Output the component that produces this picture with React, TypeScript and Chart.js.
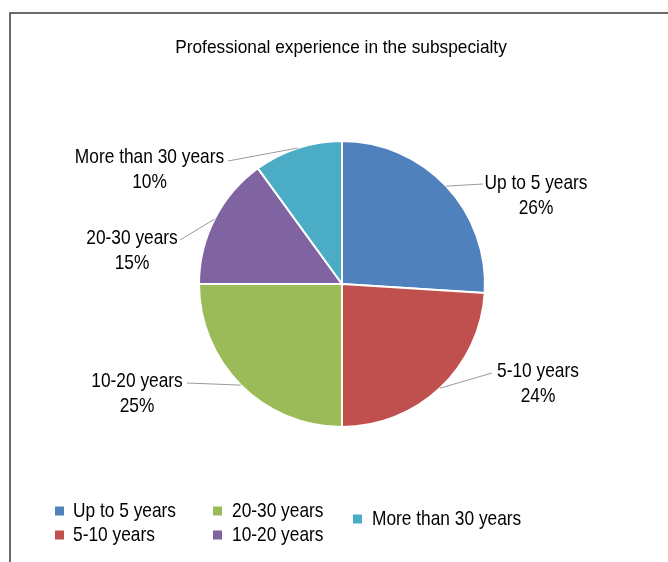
import React, { useEffect, useRef } from "react";
import { Chart, registerables } from "chart.js";

Chart.register(...registerables);

const chartTitle = "Professional experience in the subspecialty";
const categories = ["Up to 5 years", "5-10 years", "10-20 years", "20-30 years", "More than 30 years"];
const values = [26, 24, 25, 15, 10];
const colors = ["#4F81BD", "#C0504D", "#9BBB59", "#8064A2", "#4BACC6"];
// legend texts exactly as printed in the original figure (column-major order)
const legendLabels = ["Up to 5 years", "5-10 years", "20-30 years", "10-20 years", "More than 30 years"];

// layout (positions only)
const labelLayout = [
  { ex: 483, ey: 184, tx: 536, ty: 188.5 },
  { ex: 492, ey: 373, tx: 538, ty: 377 },
  { ex: 187, ey: 383, tx: 137, ty: 387 },
  { ex: 180, ey: 240, tx: 132, ty: 243.5 },
  { ex: 228, ey: 161, tx: 149.5, ty: 162.5 },
];
const legendLayout = [
  { sx: 55, sy: 511, tx: 73, ty: 517 },
  { sx: 55, sy: 535, tx: 73, ty: 541 },
  { sx: 213, sy: 511, tx: 232, ty: 517 },
  { sx: 213, sy: 535, tx: 232, ty: 541 },
  { sx: 353, sy: 519, tx: 372, ty: 525 },
];

const FONT = '"Liberation Sans", Arial, sans-serif';

function drawText(ctx: CanvasRenderingContext2D, text: string, x: number, y: number, size: number, sx: number, align: CanvasTextAlign) {
  ctx.save();
  ctx.translate(x, y);
  ctx.scale(sx, 1);
  ctx.font = `${size}px ${FONT}`;
  ctx.fillStyle = "#000";
  ctx.textAlign = align;
  ctx.textBaseline = "alphabetic";
  ctx.fillText(text, 0, 0);
  ctx.restore();
}

const decorPlugin = {
  id: "decor",
  afterDraw(chart: any) {
    const ctx: CanvasRenderingContext2D = chart.ctx;
    const total = values.reduce((a, b) => a + b, 0);
    // frame
    ctx.save();
    ctx.strokeStyle = "#3a3a3a";
    ctx.lineWidth = 1.5;
    ctx.beginPath();
    ctx.moveTo(10, 562);
    ctx.lineTo(10, 13);
    ctx.lineTo(668, 13);
    ctx.stroke();
    ctx.restore();

    // title
    drawText(ctx, chartTitle, 341, 52.5, 18.6, 0.93, "center");

    // leader lines + labels
    const meta = chart.getDatasetMeta(0);
    meta.data.forEach((arc: any, i: number) => {
      const p = arc.getProps(["x", "y", "startAngle", "endAngle", "outerRadius"], true);
      const mid = (p.startAngle + p.endAngle) / 2;
      const px = p.x + Math.cos(mid) * p.outerRadius;
      const py = p.y + Math.sin(mid) * p.outerRadius;
      const L = labelLayout[i];
      ctx.save();
      ctx.strokeStyle = "#9a9a9a";
      ctx.lineWidth = 1;
      ctx.beginPath();
      ctx.moveTo(px, py);
      ctx.lineTo(L.ex, L.ey);
      ctx.stroke();
      ctx.restore();
      const pct = Math.round((values[i] / total) * 100) + "%";
      drawText(ctx, categories[i], L.tx, L.ty, 21, 0.825, "center");
      drawText(ctx, pct, L.tx, L.ty + 25, 21, 0.825, "center");
    });

    // legend
    legendLayout.forEach((g, i) => {
      ctx.save();
      ctx.fillStyle = colors[i];
      ctx.fillRect(g.sx, g.sy - 4.5, 9, 9);
      ctx.restore();
      drawText(ctx, legendLabels[i], g.tx, g.ty, 21, 0.825, "left");
    });
  },
};

export default function App() {
  const ref = useRef<HTMLCanvasElement | null>(null);
  useEffect(() => {
    if (!ref.current) return;
    const chart = new Chart(ref.current, {
      type: "pie",
      data: {
        labels: categories,
        datasets: [
          {
            data: values,
            backgroundColor: colors,
            borderColor: "#ffffff",
            borderWidth: 2,
          },
        ],
      },
      options: {
        responsive: false,
        animation: false,
        devicePixelRatio: 1,
        layout: { padding: { left: 198, right: 182, top: 140, bottom: 134 } },
        plugins: {
          legend: { display: false },
          title: { display: false },
          tooltip: { enabled: false },
        },
      },
      plugins: [decorPlugin],
    } as any);
    return () => chart.destroy();
  }, []);
  return (
    <div style={{ position: "absolute", left: 0, top: 0, width: 668, height: 562, background: "#fff" }}>
      <canvas ref={ref} width={668} height={562} style={{ display: "block" }} />
    </div>
  );
}
